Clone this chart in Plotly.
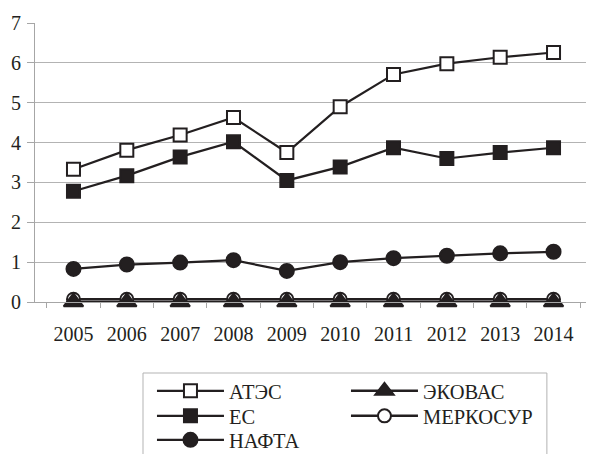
import plotly.graph_objects as go

years = ["2005", "2006", "2007", "2008", "2009", "2010", "2011", "2012", "2013", "2014"]
ates = [3.33, 3.81, 4.19, 4.63, 3.75, 4.90, 5.71, 5.98, 6.14, 6.26]
es = [2.78, 3.17, 3.64, 4.02, 3.05, 3.39, 3.87, 3.60, 3.75, 3.87]
nafta = [0.83, 0.94, 0.99, 1.05, 0.78, 1.00, 1.10, 1.16, 1.22, 1.26]
ecowas = [0.0, 0.0, 0.0, 0.0, 0.0, 0.0, 0.0, 0.0, 0.0, 0.0]
mercosur = [0.07, 0.07, 0.07, 0.07, 0.07, 0.07, 0.07, 0.07, 0.07, 0.07]

FONT = "Liberation Serif, Times New Roman, Times, serif"
BLACK = "#231f20"
LEG_FONT = dict(family=FONT, size=20.5, color=BLACK)

# the page body has an 8px default margin, so the figure is 8px smaller
W, H = 586, 446

fig = go.Figure()

def add(name, vals, symbol, fill, size, leg, rank, width=2.2):
    fig.add_trace(go.Scatter(
        x=years, y=vals, name=name, mode="lines+markers",
        line=dict(color=BLACK, width=width),
        marker=dict(symbol=symbol, size=size, color=fill,
                    line=dict(color=BLACK, width=2)),
        legend=leg, legendrank=rank, cliponaxis=False,
    ))

add("АТЭС", ates, "square", "white", 13, "legend", 1)
add("ЕС", es, "square", BLACK, 13, "legend2", 1)
add("НАФТА", nafta, "circle", BLACK, 14, "legend3", 1)
add("МЕРКОСУР", mercosur, "circle", "white", 13, "legend2", 2, 2.5)
add("ЭКОВАС", ecowas, "triangle-up", BLACK, 17, "legend", 2, 2.5)

fig.add_shape(type="rect", xref="paper", yref="paper",
              x0=0.1939, x1=0.919, y0=-0.6, y1=-0.2545,
              line=dict(color="#b3b3b3", width=1), fillcolor="rgba(0,0,0,0)")

def leg(row_px):
    return dict(
        orientation="h", x=0.21, y=(H - row_px) / H, xref="paper", yref="container",
        xanchor="left", yanchor="middle",
        entrywidth=112, entrywidthmode="pixels", itemwidth=67,
        font=LEG_FONT, bgcolor="rgba(0,0,0,0)", borderwidth=0,
        traceorder="normal", itemclick=False, itemdoubleclick=False,
    )

fig.update_layout(
    width=W, height=H,
    margin=dict(l=27, r=2, t=15, b=152, autoexpand=False),
    paper_bgcolor="white", plot_bgcolor="white",
    font=dict(family=FONT, size=20, color=BLACK),
    showlegend=True,
    legend=leg(383),
    legend2=leg(408),
    legend3=leg(432),
    xaxis=dict(
        type="category", showgrid=False, showline=True, linecolor="#a6a6a6",
        linewidth=1, ticks="outside", tickson="boundaries", ticklen=5,
        tickcolor="#a6a6a6", tickfont=dict(family=FONT, size=20, color=BLACK),
        ticklabelstandoff=14, zeroline=False,
    ),
    yaxis=dict(
        range=[0, 7], dtick=1, showgrid=True, gridcolor="#b3b3b3", gridwidth=1,
        showline=True, linecolor="#a6a6a6", linewidth=1, ticks="outside",
        ticklen=7, tickcolor="#a6a6a6", zeroline=False,
        tickfont=dict(family=FONT, size=20, color=BLACK), ticklabelstandoff=2,
    ),
)

fig.write_html("out.html")
